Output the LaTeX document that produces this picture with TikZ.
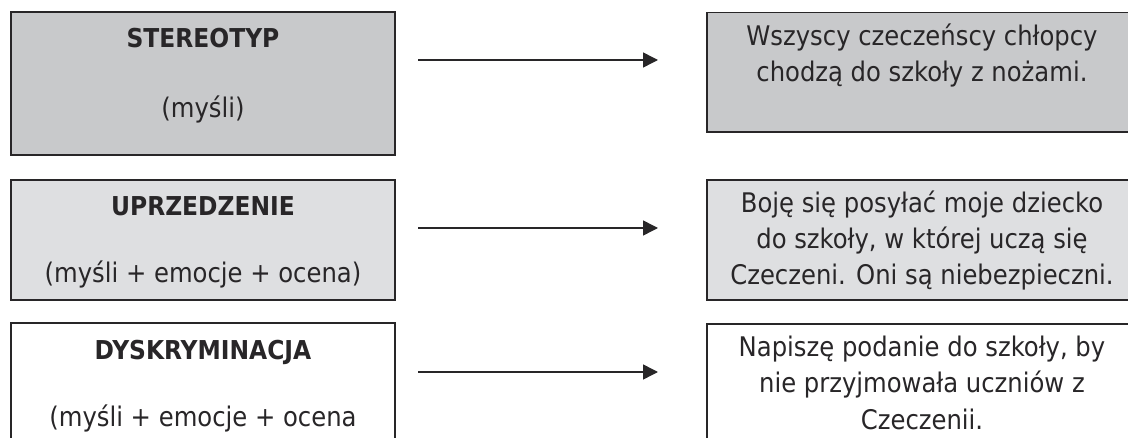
\documentclass[tikz,border=0pt]{standalone}
\usepackage{fontspec}
\setmainfont{DejaVu Sans Condensed}
\usetikzlibrary{arrows.meta}
\definecolor{darkfill}{RGB}{200,201,203}
\definecolor{lightfill}{RGB}{222,223,225}
\definecolor{edge}{RGB}{40,38,40}
\tikzset{
  box/.style={draw=edge, line width=1.5pt, inner sep=0pt, outer sep=0pt},
  txt/.style={inner sep=0pt, outer sep=0pt, anchor=base, text=edge, font=\fontsize{27}{36}\selectfont},
  head/.style={txt, font=\fontsize{26}{36}\selectfont\bfseries},
  arr/.style={draw=edge, line width=1.5pt, -{Triangle[length=15pt,width=15pt]}}
}
\begin{document}
\begin{tikzpicture}[x=1pt,y=-1pt]
\useasboundingbox (0,0) rectangle (1128,438);
\begin{scope}
\clip (0,0) rectangle (1128,438);
% left boxes
\node[box, fill=darkfill, minimum width=384pt, minimum height=143pt] (l1) at (203,83.5) {};
\node[box, fill=lightfill, minimum width=384pt, minimum height=120pt] (l2) at (203,240) {};
\node[box, fill=white, minimum width=384pt, minimum height=140pt] (l3) at (203,393) {};
% right boxes
\node[box, fill=darkfill, minimum width=430pt, minimum height=119.3pt] (r1) at (922,72.35) {};
\node[box, fill=lightfill, minimum width=430pt, minimum height=120pt] (r2) at (922,240) {};
\node[box, fill=white, minimum width=430pt, minimum height=140pt] (r3) at (922,394) {};
% left texts
\node[head] (l1a) at (203,48) {STEREOTYP};
\node[txt] (l1b) at (203,118) {(myśli)};
\node[head] (l2a) at (203,216) {UPRZEDZENIE};
\node[txt] (l2b) at (203,283) {(myśli + emocje + ocena)};
\node[head] (l3a) at (203,360) {DYSKRYMINACJA};
\node[txt] (l3b) at (203,427) {(myśli + emocje + ocena};
% right texts
\node[txt] (r1a) at (922,46) {Wszyscy czeczeńscy chłopcy};
\node[txt] (r1b) at (922,82) {chodzą do szkoły z nożami.};
\node[txt] (r2a) at (922,213) {Boję się posyłać moje dziecko};
\node[txt] (r2b) at (922,249) {do szkoły, w której uczą się};
\node[txt] (r2c) at (922,285) {Czeczeni. Oni są niebezpieczni.};
\node[txt] (r3a) at (922,357) {Napiszę podanie do szkoły, by};
\node[txt] (r3b) at (922,393) {nie przyjmowała uczniów z};
\node[txt] (r3c) at (922,429) {Czeczenii.};
\end{scope}
% arrows
\coordinate (a1s) at (418,60);  \coordinate (a1e) at (658,60);
\coordinate (a2s) at (418,228); \coordinate (a2e) at (658,228);
\coordinate (a3s) at (418,372); \coordinate (a3e) at (658,372);
\draw[arr] (a1s) -- (a1e);
\draw[arr] (a2s) -- (a2e);
\draw[arr] (a3s) -- (a3e);
\end{tikzpicture}
\end{document}
